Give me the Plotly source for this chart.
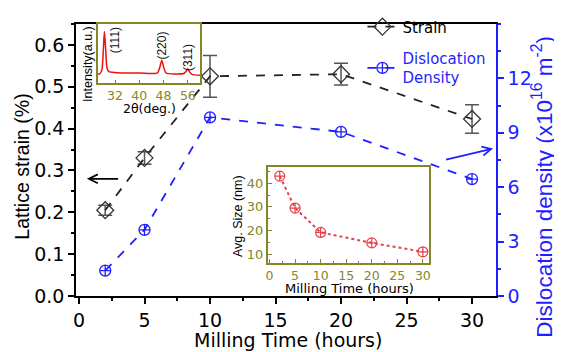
import plotly.graph_objects as go

# ---- main data ----
milling_time = [2, 5, 10, 20, 30]
lattice_strain = [0.205, 0.33, 0.525, 0.53, 0.423]
strain_err = [0.012, 0.015, 0.05, 0.026, 0.034]
dislocation_density = [1.4, 3.65, 9.85, 9.05, 6.45]

# ---- inset: crystallite size ----
size_time = [2, 5, 10, 20, 30]
avg_size = [43, 29.5, 19.2, 14.8, 11.0]

# ---- inset: XRD pattern ----
two_theta = [26.4, 27.1, 27.7, 28.2, 28.5, 28.9, 29.4, 30.0, 32.0, 35.3, 40.2, 45.2,
             46.1, 46.8, 47.4, 48.0, 48.8, 51.7, 54.7, 55.4, 55.9, 56.5, 57.3, 60.0]
intensity = [9, 10, 14, 37, 54, 37, 15, 12, 11, 10.5, 10.5, 10,
             11, 17, 24, 17, 10.5, 9.5, 10, 12, 15, 12, 9, 8]
peak_labels = ["(111)", "(220)", "(311)"]
peak_pos = [32.0, 47.4, 56.3]
peak_lab_y = [45, 39, 27]

FONT = "Liberation Sans, Arial, sans-serif"
WFONT = "DejaVu Sans, Verdana, sans-serif"
BLUE = "#1f1fff"
OLIVE = "#85852a"
RED = "#e8404c"

# The page body has an 8px margin; the figure is sized so that it fills the window.
OFF = 8
W, H = 562 - OFF, 352 - OFF
# plot area in screenshot pixels
PX0, PX1, PY0, PY1 = 76, 496, 10, 296
L, T = PX0 - OFF, PY0 - OFF
R, B = W - (PX1 - OFF), H - (PY1 - OFF)
PW, PH = PX1 - PX0, PY1 - PY0


def px_x(px):
    return (px - PX0) / PW


def px_y(py):
    return (PY1 - py) / PH


fig = go.Figure()

fig.add_trace(go.Scatter(
    x=milling_time, y=lattice_strain, name="Strain", legendgroup="a",
    mode="lines+markers",
    line=dict(color="#222222", dash="dash", width=1.8),
    marker=dict(symbol="diamond-open", size=13, color="#333333", line=dict(width=1.3)),
    error_y=dict(type="data", array=strain_err, color="#555555", thickness=1.5, width=7),
    xaxis="x", yaxis="y"))

fig.add_trace(go.Scatter(
    x=milling_time, y=dislocation_density, legendgroup="b",
    name="<span style='color:%s'>Dislocation<br>Density</span>" % BLUE,
    mode="lines+markers",
    line=dict(color=BLUE, dash="dash", width=1.8),
    marker=dict(symbol="circle-cross-open", size=11, color=BLUE, line=dict(width=1.3)),
    xaxis="x", yaxis="y2"))

# XRD inset
fig.add_trace(go.Scatter(
    x=two_theta, y=intensity, mode="lines",
    line=dict(color="#ee1111", width=1.5, shape="spline", smoothing=0.6),
    showlegend=False, xaxis="x3", yaxis="y3"))

# Size inset
fig.add_trace(go.Scatter(
    x=size_time, y=avg_size, mode="lines+markers",
    line=dict(color=RED, dash="dot", width=2),
    marker=dict(symbol="circle-cross-open", size=10, color=RED, line=dict(width=1.2)),
    showlegend=False, xaxis="x4", yaxis="y4"))

for lab, px, py in zip(peak_labels, peak_pos, peak_lab_y):
    fig.add_annotation(x=px, y=py, xref="x3", yref="y3", text=lab, textangle=-90,
                       showarrow=False, font=dict(size=12, color="#111111", family=FONT))

common_off = dict(showgrid=False, zeroline=False, automargin=False)

fig.update_layout(
    width=W, height=H,
    margin=dict(l=L, r=R, t=T, b=B),
    paper_bgcolor="white", plot_bgcolor="white",
    font=dict(family=FONT, color="black"),
    legend=dict(x=0.682, y=1.05, xanchor="left", yanchor="top", bgcolor="rgba(0,0,0,0)",
                font=dict(size=15, family=WFONT), itemwidth=30,
                traceorder="grouped", tracegroupgap=9),
    xaxis=dict(range=[-0.23, 31.83], tickvals=[0, 5, 10, 15, 20, 25, 30],
               showline=True, linecolor="black", linewidth=1.5, mirror=True,
               ticks="outside", ticklen=6, tickwidth=1.5, tickcolor="black",
               minor=dict(dtick=2.5, tick0=0, ticks="outside", ticklen=3, tickcolor="black"),
               tickfont=dict(size=19, family=WFONT), **common_off),
    yaxis=dict(range=[0, 0.65], tickvals=[0, 0.1, 0.2, 0.3, 0.4, 0.5, 0.6],
               ticktext=["0.0", "0.1", "0.2", "0.3", "0.4", "0.5", "0.6"],
               showline=True, linecolor="black", linewidth=1.5,
               ticks="outside", ticklen=6, tickwidth=1.5, tickcolor="black",
               minor=dict(dtick=0.05, tick0=0, ticks="outside", ticklen=3, tickcolor="black"),
               tickfont=dict(size=19, family=WFONT), **common_off),
    yaxis2=dict(range=[0, 15], overlaying="y", side="right", tickvals=[0, 3, 6, 9, 12],
                showline=True, linecolor=BLUE, linewidth=1.5,
                ticks="outside", ticklen=6, tickwidth=1.5, tickcolor=BLUE,
                minor=dict(dtick=1.5, tick0=0, ticks="outside", ticklen=3, tickcolor=BLUE),
                tickfont=dict(size=19, color=BLUE, family=WFONT), **common_off),
    xaxis3=dict(domain=[px_x(98), px_x(200)], anchor="y3", range=[26.4, 60], tickvals=[32, 40, 48, 56],
                showline=True, linecolor=OLIVE, linewidth=2, mirror=True,
                ticks="inside", ticklen=3, tickcolor=OLIVE,
                tickfont=dict(size=12.5, color=OLIVE, family=WFONT), **common_off),
    yaxis3=dict(domain=[px_y(72), px_y(10)], anchor="x3", range=[0, 62],
                showline=True, linecolor=OLIVE, linewidth=2, mirror=True,
                showticklabels=False, ticks="", **common_off),
    xaxis4=dict(domain=[px_x(268), px_x(429)], anchor="y4", range=[-0.3, 31.2],
                tickvals=[0, 5, 10, 15, 20, 25, 30],
                showline=True, linecolor=OLIVE, linewidth=2, mirror=True,
                ticks="inside", ticklen=4, tickcolor=OLIVE,
                minor=dict(dtick=2.5, tick0=0, ticks="inside", ticklen=2, tickcolor=OLIVE),
                tickfont=dict(size=12.5, color=OLIVE, family=WFONT), **common_off),
    yaxis4=dict(domain=[px_y(261), px_y(160)], anchor="x4", range=[6.4, 47], tickvals=[10, 20, 30, 40],
                showline=True, linecolor=OLIVE, linewidth=2, mirror=True,
                ticks="inside", ticklen=4, tickcolor=OLIVE,
                minor=dict(dtick=5, tick0=0, ticks="inside", ticklen=2, tickcolor=OLIVE),
                tickfont=dict(size=13, color=OLIVE, family=WFONT), **common_off),
)

# axis titles as annotations (paper coordinates)
titles = [
    dict(text="Milling Time (hours)", x=px_x(288), y=px_y(342), angle=0, size=19, color="black", fam=WFONT),
    dict(text="Lattice strain (%)", x=px_x(22), y=px_y(160), angle=-90, size=19.5, color="black", fam=FONT),
    dict(text="Dislocation density (x10<sup>16</sup> m<sup>-2</sup>)", x=px_x(542), y=px_y(181),
         angle=-90, size=22.5, color=BLUE, fam=FONT),
    dict(text="2θ(deg.)", x=px_x(149), y=px_y(99), angle=0, size=12.5, color="black", fam=WFONT),
    dict(text="Intensity(a.u.)", x=px_x(88), y=px_y(52), angle=-90, size=12.5, color="black", fam=FONT),
    dict(text="Milling Time (hours)", x=px_x(349), y=px_y(288), angle=0, size=13, color="black", fam=WFONT),
    dict(text="Avg. Size (nm)", x=px_x(238), y=px_y(212), angle=-90, size=12.5, color="black", fam=FONT),
]
for t in titles:
    fig.add_annotation(x=t["x"], y=t["y"], xref="paper", yref="paper", text=t["text"],
                       textangle=t["angle"], showarrow=False, xanchor="center", yanchor="middle",
                       font=dict(size=t["size"], color=t["color"], family=t["fam"]))

# arrows pointing to each axis
fig.add_annotation(x=0.6, y=0.28, xref="x", yref="y", ax=3.1, ay=0.28, axref="x", ayref="y",
                   text="", showarrow=True, arrowhead=5, arrowsize=1.1, arrowwidth=1.6, arrowcolor="black")
fig.add_annotation(x=31.6, y=8.13, xref="x", yref="y2", ax=27.9, ay=7.5, axref="x", ayref="y2",
                   text="", showarrow=True, arrowhead=5, arrowsize=1.1, arrowwidth=1.6, arrowcolor=BLUE)

fig.write_html("out.html")
